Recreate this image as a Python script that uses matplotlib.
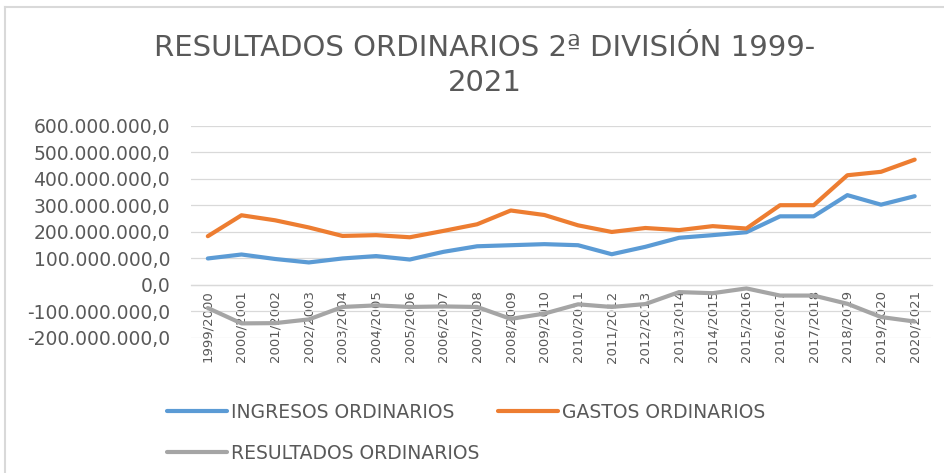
import matplotlib
matplotlib.use("Agg")
import matplotlib.pyplot as plt
from matplotlib.ticker import FuncFormatter
from matplotlib.lines import Line2D

# datos (euros)
temporadas = ["1999/2000", "2000/2001", "2001/2002", "2002/2003", "2003/2004",
              "2004/2005", "2005/2006", "2006/2007", "2007/2008", "2008/2009",
              "2009/2010", "2010/2011", "2011/2012", "2012/2013", "2013/2014",
              "2014/2015", "2015/2016", "2016/2017", "2017/2018", "2018/2019",
              "2019/2020", "2020/2021"]
ingresos = [99e6, 114e6, 97e6, 84e6, 99e6, 108e6, 95e6, 124e6, 145e6, 149e6,
            153e6, 149e6, 115e6, 143e6, 177e6, 187e6, 198e6, 258e6, 258e6,
            338e6, 302e6, 334e6]
gastos = [183e6, 262e6, 243e6, 216e6, 184e6, 187e6, 179e6, 203e6, 228e6, 280e6,
          263e6, 224e6, 199e6, 214e6, 206e6, 221e6, 212e6, 300e6, 300e6,
          413e6, 426e6, 472e6]
resultados = [-88e6, -146e6, -145e6, -131e6, -84e6, -78e6, -84e6, -82e6, -84e6,
              -129e6, -109e6, -74e6, -84e6, -73e6, -28e6, -32e6, -14e6, -41e6,
              -41e6, -72e6, -122e6, -139e6]

W, H = 945, 473
fig = plt.figure(figsize=(W / 100, H / 100), dpi=100)
ax = fig.add_axes([191 / W, 1 - 337.7 / H, (931.5 - 191) / W, (337.7 - 125.7) / H])

gris_txt = "#595959"
x = range(len(temporadas))
l1, = ax.plot(x, ingresos, color="#5B9BD5", lw=3, solid_joinstyle="round",
              solid_capstyle="round", label="INGRESOS ORDINARIOS")
l2, = ax.plot(x, gastos, color="#ED7D31", lw=3, solid_joinstyle="round",
              solid_capstyle="round", label="GASTOS ORDINARIOS")
l3, = ax.plot(x, resultados, color="#A5A5A5", lw=3, solid_joinstyle="round",
              solid_capstyle="round", label="RESULTADOS ORDINARIOS")

ax.set_xlim(-0.5, len(temporadas) - 0.5)
ax.set_ylim(-200e6, 600e6)
ax.set_yticks([i * 100e6 for i in range(-2, 7)])


def fmt(v, pos):
    s = f"{v:,.1f}"
    return s.replace(",", "#").replace(".", ",").replace("#", ".")


ax.yaxis.set_major_formatter(FuncFormatter(fmt))
ax.grid(axis="y", color="#D9D9D9", lw=0.9)
ax.set_axisbelow(True)
for s in ["left", "right", "top"]:
    ax.spines[s].set_visible(False)
ax.spines["bottom"].set_position(("data", 0))
ax.spines["bottom"].set_color("#D9D9D9")
ax.spines["bottom"].set_linewidth(0.9)

ax.set_xticks(list(x))
ax.set_xticklabels(temporadas, rotation=90)
ax.tick_params(axis="x", length=0, pad=4, labelsize=9.5, labelcolor=gris_txt)
ax.tick_params(axis="y", length=0, pad=15, labelsize=13.5, labelcolor=gris_txt)

fig.text(484.5 / W, 1 - 34 / H, "RESULTADOS ORDINARIOS 2ª DIVISIÓN 1999-\n2021",
         ha="center", va="top", fontsize=21, color=gris_txt, linespacing=1.3)

# borde del grafico (solo visible arriba e izquierda)
fig.add_artist(Line2D([5 / W, 5 / W], [0, 1 - 7 / H], color="#D9D9D9", lw=1.5))
fig.add_artist(Line2D([5 / W, 1], [1 - 7 / H, 1 - 7 / H], color="#D9D9D9", lw=1.5))

fig.legend([l1, l3, l2], [l1.get_label(), l3.get_label(), l2.get_label()],
           loc="upper left", bbox_to_anchor=(167 / W, 1 - 403 / H), ncol=2,
           frameon=False, fontsize=13.5, labelcolor=gris_txt, handlelength=3.2,
           handletextpad=0.2, columnspacing=1.0, labelspacing=1.15,
           borderpad=0, borderaxespad=0)

fig.savefig("out.png", dpi=100)
